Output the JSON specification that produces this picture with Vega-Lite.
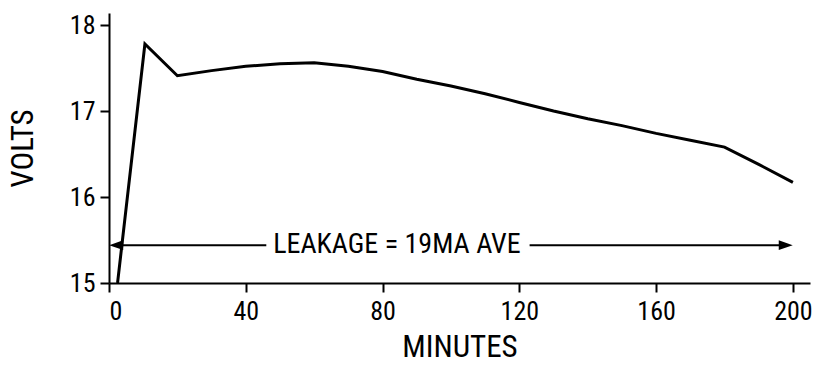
{
  "$schema": "https://vega.github.io/schema/vega-lite/v6.json",
  "width": 701,
  "height": 270,
  "autosize": "none",
  "padding": {"left": 109, "top": 13, "right": 11, "bottom": 82},
  "background": "white",
  "config": {
    "view": {"stroke": null},
    "font": "Roboto Condensed, Liberation Sans Narrow, Arial Narrow, DejaVu Sans Condensed, Liberation Sans, sans-serif",
    "axis": {
      "grid": false,
      "domainColor": "black",
      "domainWidth": 2,
      "tickColor": "black",
      "tickWidth": 2,
      "tickSize": 9,
      "labelColor": "black",
      "labelFontSize": 26,
      "labelFont": "Roboto Condensed, Liberation Sans Narrow, Arial Narrow, DejaVu Sans Condensed, Liberation Sans, sans-serif",
      "titleFont": "Roboto Condensed, Liberation Sans Narrow, Arial Narrow, DejaVu Sans Condensed, Liberation Sans, sans-serif",
      "titleColor": "black",
      "titleFontWeight": "normal",
      "titleFontSize": 31
    }
  },
  "datasets": {
    "volts": [
      {"minutes": 2.5, "volts": 15.0},
      {"minutes": 10.5, "volts": 17.78},
      {"minutes": 20, "volts": 17.41},
      {"minutes": 30, "volts": 17.47},
      {"minutes": 40, "volts": 17.52},
      {"minutes": 50, "volts": 17.55},
      {"minutes": 60, "volts": 17.56},
      {"minutes": 70, "volts": 17.52},
      {"minutes": 80, "volts": 17.46},
      {"minutes": 90, "volts": 17.37},
      {"minutes": 100, "volts": 17.29},
      {"minutes": 110, "volts": 17.2},
      {"minutes": 120, "volts": 17.1},
      {"minutes": 130, "volts": 17.0},
      {"minutes": 140, "volts": 16.91},
      {"minutes": 150, "volts": 16.83},
      {"minutes": 160, "volts": 16.74},
      {"minutes": 170, "volts": 16.66},
      {"minutes": 180, "volts": 16.58},
      {"minutes": 190, "volts": 16.38},
      {"minutes": 200, "volts": 16.17}
    ],
    "arrowSegments": [
      {"from": 2, "to": 46, "level": 15.44},
      {"from": 123, "to": 197, "level": 15.44}
    ],
    "leftHead": [{"minutes": 2.1, "level": 15.44}],
    "rightHead": [{"minutes": 197.9, "level": 15.44}],
    "label": [{"minutes": 84.2, "level": 15.44, "text": "LEAKAGE = 19MA AVE"}]
  },
  "layer": [
    {
      "data": {"name": "volts"},
      "mark": {"type": "line", "color": "black", "strokeWidth": 3, "strokeJoin": "miter", "clip": false},
      "encoding": {
        "x": {
          "field": "minutes", "type": "quantitative",
          "scale": {"domain": [0, 205], "nice": false, "zero": false},
          "axis": {"values": [0, 40, 80, 120, 160, 200], "format": "d", "title": "MINUTES", "titlePadding": 8, "labelPadding": 6}
        },
        "y": {
          "field": "volts", "type": "quantitative",
          "scale": {"domain": [15, 18.14], "nice": false, "zero": false},
          "axis": {"values": [15, 16, 17, 18], "format": "d", "title": "VOLTS", "titlePadding": 30, "labelPadding": 5}
        }
      }
    },
    {
      "data": {"name": "arrowSegments"},
      "mark": {"type": "rule", "color": "black", "strokeWidth": 2},
      "encoding": {
        "x": {"field": "from", "type": "quantitative"},
        "x2": {"field": "to"},
        "y": {"field": "level", "type": "quantitative"}
      }
    },
    {
      "data": {"name": "leftHead"},
      "mark": {"type": "point", "shape": "M-1,0L1,-0.7L1,0.7Z", "filled": true, "color": "black", "opacity": 1, "size": 196},
      "encoding": {
        "x": {"field": "minutes", "type": "quantitative"},
        "y": {"field": "level", "type": "quantitative"}
      }
    },
    {
      "data": {"name": "rightHead"},
      "mark": {"type": "point", "shape": "M1,0L-1,-0.7L-1,0.7Z", "filled": true, "color": "black", "opacity": 1, "size": 196},
      "encoding": {
        "x": {"field": "minutes", "type": "quantitative"},
        "y": {"field": "level", "type": "quantitative"}
      }
    },
    {
      "data": {"name": "label"},
      "mark": {"type": "text", "color": "black", "fontSize": 28, "align": "center", "baseline": "middle", "font": "Roboto Condensed, Liberation Sans Narrow, Arial Narrow, DejaVu Sans Condensed, Liberation Sans, sans-serif"},
      "encoding": {
        "x": {"field": "minutes", "type": "quantitative"},
        "y": {"field": "level", "type": "quantitative"},
        "text": {"field": "text"}
      }
    }
  ]
}
